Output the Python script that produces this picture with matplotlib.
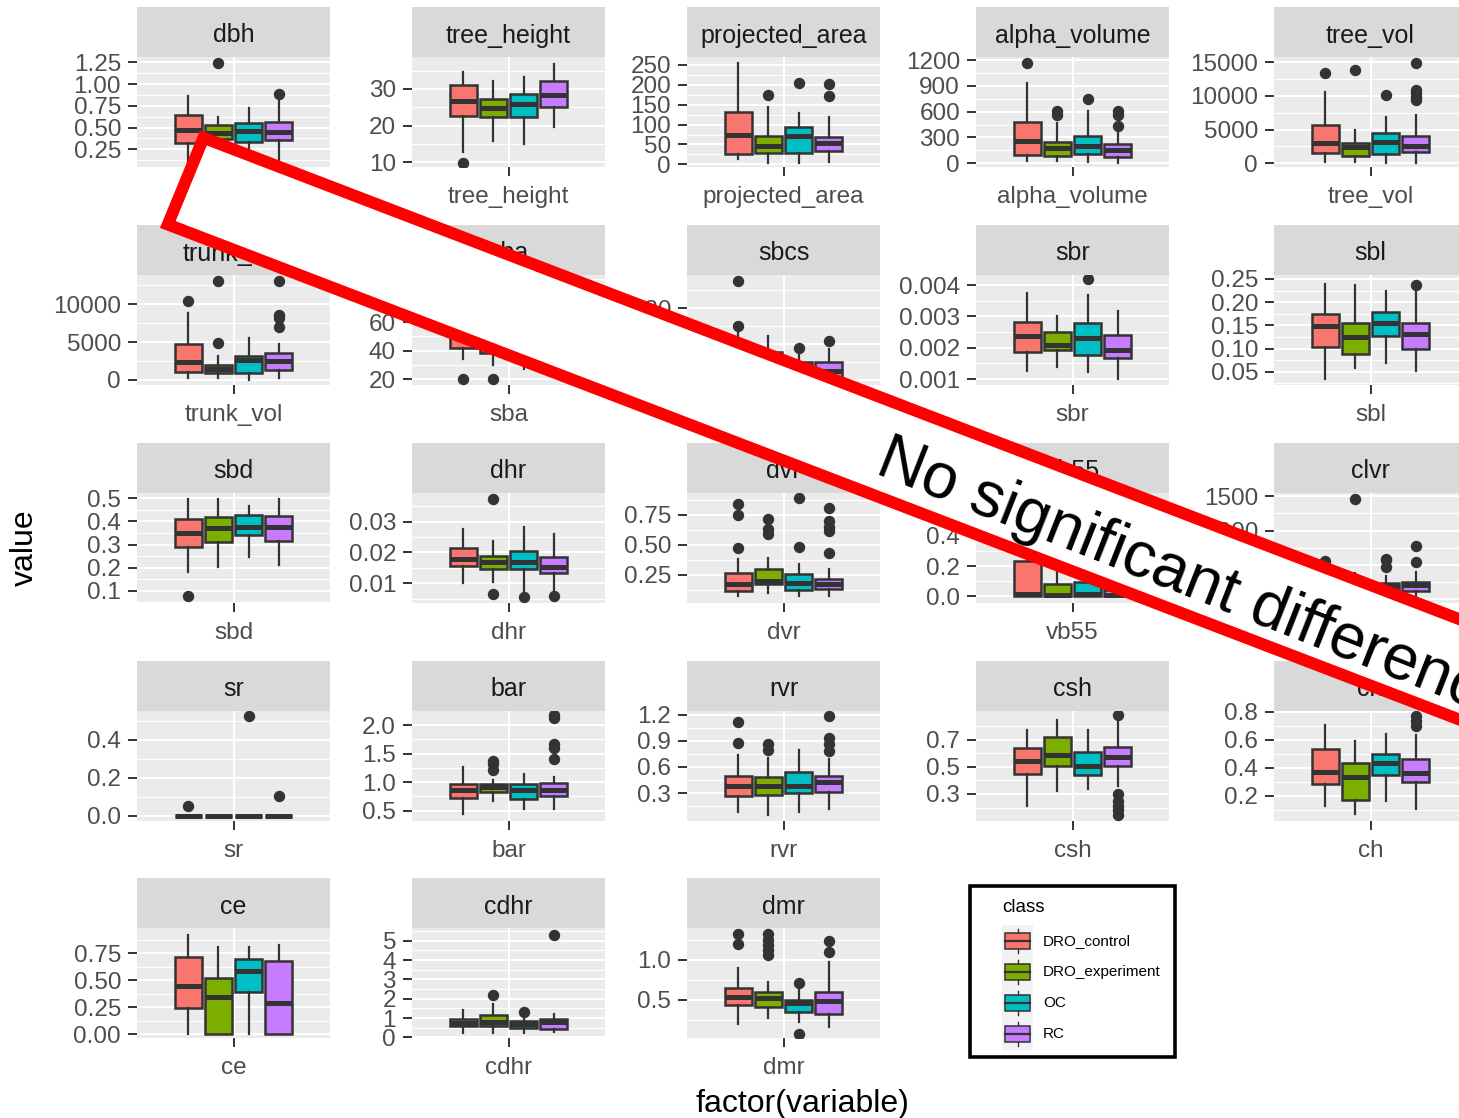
import matplotlib
matplotlib.use("Agg")
import matplotlib.pyplot as plt
from matplotlib.patches import Polygon, Rectangle
from matplotlib.lines import Line2D
from matplotlib.transforms import Affine2D

plt.rcParams['font.family'] = ['Liberation Sans', 'DejaVu Sans']

# ---------------- data ----------------
classes = ["DRO_control", "DRO_experiment", "OC", "RC"]
class_colors = ["#F8766D", "#7CAE00", "#00BFC4", "#C77CFF"]

variables = ["dbh", "tree_height", "projected_area", "alpha_volume", "tree_vol",
             "trunk_vol", "sba", "sbcs", "sbr", "sbl",
             "sbd", "dhr", "dvr", "vb55", "clvr",
             "sr", "bar", "rvr", "csh", "ch",
             "ce", "cdhr", "dmr"]

whisker_low = {
    "dbh": [0.10, 0.15, 0.15, 0.125], "tree_height": [12.9, 15.9, 15.0, 19.5],
    "projected_area": [12.6, 4, 4, 6.5], "alpha_volume": [27, 27, 10, 5],
    "tree_vol": [240, 240, 0, 0], "trunk_vol": [224, 224, 0, 224],
    "sba": [34, 30, 27, 30], "sbcs": [0.095, 0.09, 0.09, 0.09],
    "sbr": [0.00127, 0.00139, 0.00123, 0.001], "sbl": [0.034, 0.057, 0.069, 0.052],
    "sbd": [0.179, 0.203, 0.244, 0.212], "dhr": [0.0100, 0.0103, 0.0076, 0.0076],
    "dvr": [0.075, 0.10, 0.075, 0.07], "vb55": [0, 0, 0, 0], "clvr": [0, 0, 0, 0],
    "sr": [0, 0, 0, 0], "bar": [0.44, 0.67, 0.53, 0.53], "rvr": [0.077, 0.046, 0.085, 0.115],
    "csh": [0.214, 0.324, 0.337, 0.357], "ch": [0.126, 0.067, 0.163, 0.105],
    "ce": [0, 0, 0, 0], "cdhr": [0.25, 0.25, 0.25, 0.3], "dmr": [0.2, 0.27, 0.229, 0.166],
}
box_q1 = {
    "dbh": [0.317, 0.37, 0.328, 0.355], "tree_height": [22.6, 22.3, 22.3, 25.0],
    "projected_area": [26, 29.2, 29.2, 34.3], "alpha_volume": [97, 85, 108, 77],
    "tree_vol": [1485, 1084, 1381, 1733], "trunk_vol": [1013, 921, 921, 1355],
    "sba": [42, 38, 40, 40], "sbcs": [0.13, 0.125, 0.115, 0.11],
    "sbr": [0.00187, 0.00192, 0.00177, 0.00166], "sbl": [0.1025, 0.088, 0.126, 0.0985],
    "sbd": [0.29, 0.31, 0.342, 0.315], "dhr": [0.0156, 0.0147, 0.0147, 0.0134],
    "dvr": [0.116, 0.17, 0.12, 0.13], "vb55": [0, 0, 0, 0], "clvr": [40, 30, 127, 116],
    "sr": [0, 0, 0, 0], "bar": [0.73, 0.82, 0.71, 0.76], "rvr": [0.262, 0.277, 0.30, 0.315],
    "csh": [0.447, 0.504, 0.44, 0.504], "ch": [0.28, 0.167, 0.346, 0.30],
    "ce": [0.24, 0.0, 0.39, 0.0], "cdhr": [0.57, 0.6, 0.5, 0.46], "dmr": [0.4375, 0.41, 0.354, 0.325],
}
box_median = {
    "dbh": [0.47, 0.44, 0.46, 0.45], "tree_height": [26.8, 24.7, 25.9, 28.4],
    "projected_area": [73.7, 46, 71.5, 54], "alpha_volume": [256, 174, 201, 155],
    "tree_vol": [2970, 2376, 3218, 2574], "trunk_vol": [2410, 1447, 2670, 2540],
    "sba": [50, 45, 48, 47], "sbcs": [0.16, 0.15, 0.13, 0.126],
    "sbr": [0.00238, 0.0021, 0.0023, 0.00192], "sbl": [0.148, 0.124, 0.156, 0.131],
    "sbd": [0.352, 0.37, 0.378, 0.374], "dhr": [0.018, 0.017, 0.017, 0.0152],
    "dvr": [0.172, 0.195, 0.18, 0.175], "vb55": [0.015, 0.01, 0.015, 0.01], "clvr": [80, 70, 200, 213],
    "sr": [0, 0, 0, 0], "bar": [0.87, 0.92, 0.87, 0.87], "rvr": [0.385, 0.385, 0.385, 0.43],
    "csh": [0.546, 0.59, 0.504, 0.57], "ch": [0.37, 0.334, 0.434, 0.36],
    "ce": [0.446, 0.345, 0.588, 0.29], "cdhr": [0.76, 0.8, 0.7, 0.8], "dmr": [0.534, 0.52, 0.467, 0.49],
}
box_q3 = {
    "dbh": [0.643, 0.524, 0.554, 0.566], "tree_height": [31.1, 27.2, 28.6, 32.2],
    "projected_area": [132.6, 71.3, 93.4, 69.7], "alpha_volume": [484, 244, 318, 225],
    "tree_vol": [5693, 2970, 4554, 4059], "trunk_vol": [4737, 1974, 3118, 3553],
    "sba": [60, 55, 58, 55], "sbcs": [0.2, 0.18, 0.15, 0.151],
    "sbr": [0.002808, 0.00249, 0.00278, 0.0024], "sbl": [0.1747, 0.154, 0.178, 0.156],
    "sbd": [0.41, 0.42, 0.427, 0.424], "dhr": [0.0215, 0.019, 0.0206, 0.0186],
    "dvr": [0.264, 0.30, 0.256, 0.21], "vb55": [0.233, 0.081, 0.096, 0.04], "clvr": [150, 130, 240, 247],
    "sr": [0, 0, 0, 0], "bar": [0.97, 0.97, 0.96, 0.99], "rvr": [0.50, 0.49, 0.54, 0.50],
    "csh": [0.637, 0.722, 0.608, 0.644], "ch": [0.53, 0.436, 0.50, 0.46],
    "ce": [0.713, 0.525, 0.694, 0.68], "cdhr": [0.93, 1.17, 0.83, 0.93], "dmr": [0.646, 0.60, 0.50, 0.60],
}
whisker_high = {
    "dbh": [0.865, 0.617, 0.72, 0.816], "tree_height": [34.7, 32.3, 33.2, 36.8],
    "projected_area": [254, 143.5, 128.6, 120], "alpha_volume": [937, 470, 612, 349],
    "tree_vol": [10644, 5000, 6837, 7178], "trunk_vol": [8776, 3118, 5487, 4737],
    "sba": [80, 70, 78, 72], "sbcs": [0.24, 0.223, 0.17, 0.186],
    "sbr": [0.003745, 0.003, 0.00369, 0.00318], "sbl": [0.239, 0.237, 0.225, 0.2298],
    "sbd": [0.497, 0.497, 0.468, 0.497], "dhr": [0.0276, 0.0238, 0.0282, 0.026],
    "dvr": [0.38, 0.39, 0.34, 0.30], "vb55": [0.55, 0.2, 0.22, 0.12], "clvr": [300, 390, 345, 392],
    "sr": [0, 0, 0, 0], "bar": [1.27, 1.035, 1.15, 1.09], "rvr": [0.74, 0.70, 0.80, 0.69],
    "csh": [0.774, 0.847, 0.774, 0.84], "ch": [0.705, 0.588, 0.643, 0.63],
    "ce": [0.92, 0.81, 0.81, 0.83], "cdhr": [1.4, 1.73, 1.1, 1.22], "dmr": [0.896, 0.73, 0.625, 0.98],
}
outliers = {
    "dbh": [[], [1.24], [], [0.885]],
    "tree_height": [[9.9], [], [], []],
    "projected_area": [[], [174.5], [205.6], [202, 172]],
    "alpha_volume": [[1162], [605, 560], [745], [612, 560, 430]],
    "tree_vol": [[13366], [13860], [10149], [14851, 10900, 10400, 9900, 9400]],
    "trunk_vol": [[10434], [13066, 4868], [], [13066, 8553, 8200, 6930]],
    "sba": [[20], [20], [], []],
    "sbcs": [[0.377, 0.25], [], [0.189], [0.21]],
    "sbr": [[], [], [0.00419], []],
    "sbl": [[], [], [], [0.2377]],
    "sbd": [[0.076], [], [], []],
    "dhr": [[], [0.0374, 0.0065], [0.0056], [0.006]],
    "dvr": [[0.842, 0.75, 0.473], [0.716, 0.632, 0.59], [0.89, 0.48], [0.812, 0.70, 0.653, 0.62, 0.43]],
    "vb55": [[], [], [], []],
    "clvr": [[560], [1457], [593, 575, 465], [770, 538]],
    "sr": [[0.05], [], [0.528], [0.1025]],
    "bar": [[], [1.37, 1.31, 1.22], [], [2.17, 2.12, 1.66, 1.60, 1.41]],
    "rvr": [[1.123, 0.88], [0.86, 0.80], [], [1.186, 0.94, 0.86, 0.79]],
    "csh": [[], [], [], [0.88, 0.30, 0.25, 0.214, 0.18, 0.145]],
    "ch": [[], [], [], [0.767, 0.733, 0.695]],
    "ce": [[], [], [], []],
    "cdhr": [[], [2.2], [1.34], [5.3]],
    "dmr": [[1.325, 1.2], [1.325, 1.25, 1.19, 1.125, 1.06], [0.71, 0.075], [1.24, 1.10]],
}
y_ticks = {
    "dbh": [0.25, 0.5, 0.75, 1.0, 1.25], "tree_height": [10, 20, 30],
    "projected_area": [0, 50, 100, 150, 200, 250], "alpha_volume": [0, 300, 600, 900, 1200],
    "tree_vol": [0, 5000, 10000, 15000], "trunk_vol": [0, 5000, 10000],
    "sba": [20, 40, 60, 80], "sbcs": [0.1, 0.2, 0.3],
    "sbr": [0.001, 0.002, 0.003, 0.004], "sbl": [0.05, 0.10, 0.15, 0.20, 0.25],
    "sbd": [0.1, 0.2, 0.3, 0.4, 0.5], "dhr": [0.01, 0.02, 0.03],
    "dvr": [0.25, 0.5, 0.75], "vb55": [0.0, 0.2, 0.4, 0.6], "clvr": [0, 500, 1000, 1500],
    "sr": [0.0, 0.2, 0.4], "bar": [0.5, 1.0, 1.5, 2.0], "rvr": [0.3, 0.6, 0.9, 1.2],
    "csh": [0.3, 0.5, 0.7], "ch": [0.2, 0.4, 0.6, 0.8],
    "ce": [0.0, 0.25, 0.5, 0.75], "cdhr": [0, 1, 2, 3, 4, 5], "dmr": [0.5, 1.0],
}
y_tick_labels = {
    "dbh": ["0.25", "0.50", "0.75", "1.00", "1.25"], "tree_height": ["10", "20", "30"],
    "projected_area": ["0", "50", "100", "150", "200", "250"], "alpha_volume": ["0", "300", "600", "900", "1200"],
    "tree_vol": ["0", "5000", "10000", "15000"], "trunk_vol": ["0", "5000", "10000"],
    "sba": ["20", "40", "60", "80"], "sbcs": ["0.10", "0.20", "0.30"],
    "sbr": ["0.001", "0.002", "0.003", "0.004"], "sbl": ["0.05", "0.10", "0.15", "0.20", "0.25"],
    "sbd": ["0.1", "0.2", "0.3", "0.4", "0.5"], "dhr": ["0.01", "0.02", "0.03"],
    "dvr": ["0.25", "0.50", "0.75"], "vb55": ["0.0", "0.2", "0.4", "0.6"], "clvr": ["0", "500", "1000", "1500"],
    "sr": ["0.0", "0.2", "0.4"], "bar": ["0.5", "1.0", "1.5", "2.0"], "rvr": ["0.3", "0.6", "0.9", "1.2"],
    "csh": ["0.3", "0.5", "0.7"], "ch": ["0.2", "0.4", "0.6", "0.8"],
    "ce": ["0.00", "0.25", "0.50", "0.75"], "cdhr": ["0", "1", "2", "3", "4", "5"], "dmr": ["0.5", "1.0"],
}
y_limits = {
    "dbh": (0.046, 1.311), "tree_height": (8.72, 38.73), "projected_area": (-6.8, 270.1),
    "alpha_volume": (-43, 1235), "tree_vol": (-550, 15787), "trunk_vol": (-658, 13816),
    "sba": (15.8, 93), "sbcs": (0.087, 0.3925), "sbr": (0.000809, 0.00432), "sbl": (0.0213, 0.2586),
    "sbd": (0.047, 0.523), "dhr": (0.0036, 0.0393), "dvr": (0.013, 0.934), "vb55": (-0.044, 0.682),
    "clvr": (-52, 1548), "sr": (-0.028, 0.553), "bar": (0.32, 2.245), "rvr": (-0.023, 1.246),
    "csh": (0.101, 0.911), "ch": (0.019, 0.805), "ce": (-0.037, 0.985), "cdhr": (-0.03, 5.66),
    "dmr": (0.025, 1.4),
}

# ---------------- layout ----------------
W, H = 1459, 1118
fig = plt.figure(figsize=(W / 100, H / 100), dpi=100)
fig.patch.set_facecolor("white")
pix = Affine2D().scale(1.0 / W, -1.0 / H).translate(0, 1) + fig.transFigure

col_left = [137, 412, 687, 976, 1274]
row_top = [7, 225, 443, 661, 878]
PW, SH, PH = 193, 50, 110


def rect(x, y, w, h):
    return [x / W, 1 - (y + h) / H, w / W, h / H]


dodge = [-0.28125, -0.09375, 0.09375, 0.28125]
DARK = "#333333"

for i, var in enumerate(variables):
    r, c = divmod(i, 5)
    ax = fig.add_axes(rect(col_left[c], row_top[r] + SH, PW, PH))
    sax = fig.add_axes(rect(col_left[c], row_top[r], PW, SH))

    stats = []
    for k in range(4):
        stats.append(dict(med=box_median[var][k], q1=box_q1[var][k], q3=box_q3[var][k],
                          whislo=whisker_low[var][k], whishi=whisker_high[var][k],
                          fliers=outliers[var][k]))
    bp = ax.bxp(stats, positions=[1 + d for d in dodge], widths=0.17, patch_artist=True,
                showcaps=False, manage_ticks=False,
                boxprops=dict(linewidth=1.8, edgecolor=DARK),
                whiskerprops=dict(color=DARK, linewidth=1.6),
                medianprops=dict(color=DARK, linewidth=3.6, solid_capstyle="butt"),
                flierprops=dict(marker="o", markerfacecolor=DARK, markeredgecolor=DARK,
                                markersize=7.2, linestyle="none"))
    for patch, col in zip(bp["boxes"], class_colors):
        patch.set_facecolor(col)

    lo, hi = y_limits[var]
    ax.set_xlim(0.4, 1.6)
    ax.set_ylim(lo, hi)
    ticks = y_ticks[var]
    ax.set_yticks(ticks)
    ax.set_yticklabels(y_tick_labels[var])
    step = ticks[1] - ticks[0]
    cand = [t + step / 2 for t in ticks[:-1]] + [ticks[0] - step / 2, ticks[-1] + step / 2]
    ax.set_yticks([m for m in cand if lo < m < hi], minor=True)
    ax.set_xticks([1])
    ax.set_xticklabels([var])
    ax.set_facecolor("#EBEBEB")
    for s in ax.spines.values():
        s.set_visible(False)
    ax.set_axisbelow(True)
    ax.grid(which="major", color="white", linewidth=1.5)
    ax.grid(which="minor", axis="y", color="white", linewidth=0.8)
    ax.tick_params(axis="y", which="major", length=6.5, width=1.4, color=DARK,
                   labelcolor="#4D4D4D", labelsize=17.5, pad=5)
    ax.tick_params(axis="x", which="major", length=6.5, width=1.4, color=DARK,
                   labelcolor="#4D4D4D", labelsize=17.5, pad=7)
    ax.tick_params(which="minor", length=0)

    sax.set_facecolor("#D9D9D9")
    sax.set_xticks([])
    sax.set_yticks([])
    for s in sax.spines.values():
        s.set_visible(False)
    sax.text(0.5, 0.43, var, ha="center", va="center", fontsize=18, color="#1A1A1A",
             transform=sax.transAxes)

# axis titles
fig.text(25, 548, "value", transform=pix, rotation=90, ha="center", va="center",
         fontsize=23, color="black")
fig.text(802, 1112, "factor(variable)", transform=pix, ha="center", va="baseline",
         fontsize=23, color="black")

# legend
fig.add_artist(Rectangle((970, 886), 205, 171, transform=pix, facecolor="white",
                         edgecolor="black", linewidth=2.6, zorder=5))
fig.text(1002, 908, "class", transform=pix, ha="left", va="center", fontsize=13.5,
         color="black", zorder=6)
fig.add_artist(Rectangle((1002, 925), 31, 125, transform=pix, facecolor="#F2F2F2",
                         edgecolor="none", zorder=6))
key_y = [941, 972, 1003, 1034]
for ky, name, col in zip(key_y, classes, class_colors):
    fig.add_artist(Line2D([1017.5, 1017.5], [ky - 12, ky + 12], transform=pix, color=DARK,
                          linewidth=1.0, zorder=7))
    fig.add_artist(Rectangle((1005, ky - 8.3), 24.5, 16.6, transform=pix, facecolor=col,
                             edgecolor=DARK, linewidth=1.1, zorder=8))
    fig.add_artist(Line2D([1005, 1029.5], [ky, ky], transform=pix, color=DARK,
                          linewidth=1.6, zorder=9))
    fig.text(1043, ky, name, transform=pix, ha="left", va="center", fontsize=11,
             color="black", zorder=9)

# banner overlay
dx, dy = 0.934, 0.358
L = 2200
p1 = (203.5, 137.8)
p4 = (167.8, 224.5)
verts = [p1, (p1[0] + L * dx, p1[1] + L * dy), (p4[0] + L * dx, p4[1] + L * dy), p4]
fig.add_artist(Polygon(verts, closed=True, transform=pix, facecolor="white",
                       edgecolor="#FF0000", linewidth=8.6, joinstyle="miter", zorder=20))
fig.text(874, 473, "No significant difference", transform=pix, rotation=-21.5,
         rotation_mode="anchor", ha="left", va="baseline", fontsize=46, color="black",
         zorder=21)

fig.savefig("out.png", dpi=100)
